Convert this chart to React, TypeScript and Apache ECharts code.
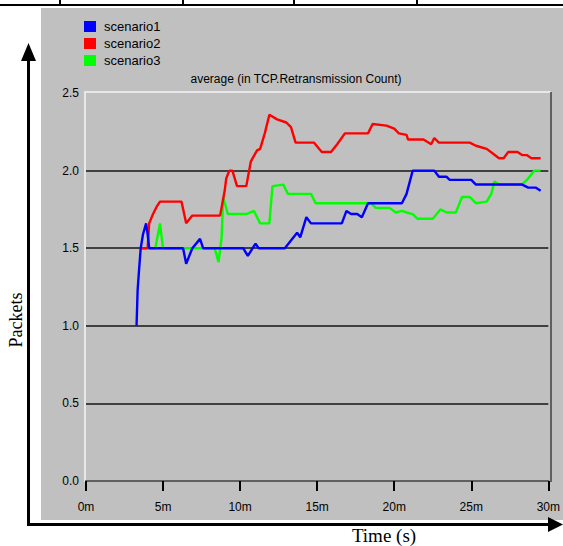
import React, { useEffect, useRef } from "react";
import * as echarts from "echarts";

const seriesNames = ["scenario1", "scenario2", "scenario3"];
const seriesColors = ["#0000ff", "#ff0000", "#00ff00"];
const xTickLabels = ["0m", "5m", "10m", "15m", "20m", "25m", "30m"];
const yTickLabels = ["0.0", "0.5", "1.0", "1.5", "2.0", "2.5"];

// scenario1 (blue), time in minutes
const s1Time = [3.28, 3.35, 3.45, 3.55, 3.7, 3.9, 4.0, 4.1, 6.3, 6.5, 6.9, 7.4, 7.6, 10.2, 10.5, 11.0, 11.2, 12.9, 13.7, 13.9, 14.3, 14.6, 16.6, 16.9, 17.2, 17.6, 17.9, 18.3, 20.5, 20.8, 21.2, 22.6, 22.9, 23.4, 23.6, 25.0, 25.3, 28.3, 28.7, 29.2, 29.5];
const s1Value = [1.0, 1.23, 1.37, 1.5, 1.59, 1.66, 1.59, 1.5, 1.5, 1.4, 1.5, 1.56, 1.5, 1.5, 1.45, 1.53, 1.5, 1.5, 1.6, 1.57, 1.7, 1.66, 1.66, 1.74, 1.72, 1.72, 1.7, 1.79, 1.79, 1.85, 2.0, 2.0, 1.96, 1.96, 1.94, 1.94, 1.91, 1.91, 1.89, 1.89, 1.87];

// scenario2 (red)
const s2Time = [3.6, 4.0, 4.1, 4.35, 4.6, 4.8, 6.2, 6.5, 6.9, 8.7, 9.0, 9.1, 9.3, 9.5, 9.8, 10.4, 10.7, 11.1, 11.3, 11.6, 11.9, 12.4, 13.0, 13.3, 13.6, 14.8, 15.3, 15.9, 16.3, 16.8, 18.3, 18.6, 19.5, 20.0, 20.3, 20.8, 20.9, 21.9, 22.4, 22.6, 22.9, 24.9, 25.3, 26.0, 26.4, 26.8, 27.1, 27.4, 28.0, 28.3, 28.6, 28.9, 29.5];
const s2Value = [1.5, 1.5, 1.66, 1.72, 1.77, 1.8, 1.8, 1.66, 1.71, 1.71, 1.87, 1.95, 2.0, 2.0, 1.9, 1.9, 2.06, 2.13, 2.14, 2.24, 2.36, 2.33, 2.31, 2.28, 2.18, 2.18, 2.12, 2.12, 2.17, 2.24, 2.24, 2.3, 2.29, 2.27, 2.24, 2.23, 2.2, 2.2, 2.17, 2.21, 2.18, 2.18, 2.16, 2.14, 2.11, 2.08, 2.08, 2.12, 2.12, 2.1, 2.1, 2.08, 2.08];

// scenario3 (green)
const s3Time = [3.6, 4.5, 4.8, 5.0, 8.35, 8.6, 8.8, 8.9, 9.2, 10.4, 10.9, 11.3, 11.9, 12.1, 12.8, 13.1, 14.6, 14.9, 18.5, 18.8, 19.7, 20.1, 20.5, 20.8, 21.2, 21.5, 22.5, 23.0, 23.4, 24.0, 24.4, 24.9, 25.3, 26.0, 26.3, 26.5, 26.8, 28.3, 28.7, 29.1, 29.5];
const s3Value = [1.5, 1.5, 1.66, 1.5, 1.5, 1.41, 1.57, 1.83, 1.72, 1.72, 1.74, 1.66, 1.66, 1.9, 1.91, 1.85, 1.85, 1.79, 1.79, 1.76, 1.76, 1.73, 1.74, 1.73, 1.72, 1.69, 1.69, 1.75, 1.73, 1.73, 1.83, 1.83, 1.79, 1.8, 1.85, 1.93, 1.91, 1.91, 1.95, 2.0, 2.0];

const titleText = "average (in TCP.Retransmission Count)";
const yName = "Packets";
const xName = "Time (s)";

const SANS = '"Liberation Sans", Arial, sans-serif';
const SERIF = '"Liberation Serif", "Times New Roman", serif';

const zip = (t: number[], v: number[]) => t.map((x, i) => [x, v[i]]);

export default function App() {
  const ref = useRef<HTMLDivElement>(null);
  useEffect(() => {
    if (!ref.current) return;
    const chart = echarts.init(ref.current, null, { renderer: "svg" });
    const data = [zip(s1Time, s1Value), zip(s2Time, s2Value), zip(s3Time, s3Value)];
    const zs = [5, 4, 3];
    chart.setOption({
      animation: false,
      backgroundColor: "#ffffff",
      title: {
        text: titleText,
        left: 296,
        top: 73,
        textAlign: "center",
        textStyle: { fontFamily: SANS, fontSize: 12, fontWeight: "normal", color: "#000" },
        padding: 0,
      },
      legend: {
        orient: "vertical",
        left: 84,
        top: 20,
        icon: "rect",
        itemWidth: 12,
        itemHeight: 11,
        itemGap: 4,
        padding: 0,
        data: seriesNames,
        textStyle: { fontFamily: SANS, fontSize: 13, color: "#000", padding: [0, 0, 0, 3] },
      },
      grid: { left: 86, right: 14, top: 93, bottom: 65 },
      xAxis: {
        type: "value",
        min: 0,
        max: 30,
        interval: 5,
        axisLine: { show: true, lineStyle: { color: "#606060", width: 2 } },
        axisTick: { show: true, length: 10, lineStyle: { color: "#000", width: 2 } },
        axisLabel: {
          fontFamily: SANS,
          fontSize: 12,
          color: "#000",
          margin: 20,
          formatter: (v: number) => xTickLabels[Math.round(v / 5)] ?? "",
        },
        splitLine: { show: false },
      },
      yAxis: {
        type: "value",
        min: 0,
        max: 2.5,
        interval: 0.5,
        axisLine: { show: false },
        axisTick: { show: false },
        axisLabel: {
          fontFamily: SANS,
          fontSize: 12,
          color: "#000",
          margin: 7,
          formatter: (v: number) => yTickLabels[Math.round(v / 0.5)] ?? "",
        },
        splitLine: { show: true, showMaxLine: false, showMinLine: false, lineStyle: { color: "#404040", width: 2 } },
      },
      series: data.map((d, i) => ({
        name: seriesNames[i],
        type: "line",
        data: d,
        z: zs[i],
        symbol: "none",
        lineStyle: { color: seriesColors[i], width: 2.4 },
        itemStyle: { color: seriesColors[i] },
      })),
      graphic: [
        { type: "rect", z: -100, shape: { x: 41, y: 8, width: 522, height: 512 }, style: { fill: "#c0c0c0" } },
        { type: "line", z: -50, shape: { x1: 84, y1: 92, x2: 551, y2: 92 }, style: { stroke: "#e8e8e8", lineWidth: 2 } },
        { type: "line", z: -50, shape: { x1: 85, y1: 92, x2: 85, y2: 482 }, style: { stroke: "#e8e8e8", lineWidth: 2 } },
        { type: "line", z: -50, shape: { x1: 551, y1: 92, x2: 551, y2: 482 }, style: { stroke: "#606060", lineWidth: 2 } },
        { type: "line", shape: { x1: 0, y1: 5, x2: 563, y2: 5 }, style: { stroke: "#000", lineWidth: 2 } },
        { type: "line", shape: { x1: 60, y1: 0, x2: 60, y2: 5 }, style: { stroke: "#000", lineWidth: 2 } },
        { type: "line", shape: { x1: 183, y1: 0, x2: 183, y2: 5 }, style: { stroke: "#000", lineWidth: 2 } },
        { type: "line", shape: { x1: 294, y1: 0, x2: 294, y2: 5 }, style: { stroke: "#000", lineWidth: 2 } },
        { type: "line", shape: { x1: 417, y1: 0, x2: 417, y2: 5 }, style: { stroke: "#000", lineWidth: 2 } },
        { type: "line", shape: { x1: 28.5, y1: 525, x2: 28.5, y2: 56 }, style: { stroke: "#000", lineWidth: 3 } },
        { type: "polygon", shape: { points: [[21, 61], [36, 61], [28.5, 43]] }, style: { fill: "#000" } },
        { type: "line", shape: { x1: 27, y1: 524.5, x2: 552, y2: 524.5 }, style: { stroke: "#000", lineWidth: 3 } },
        { type: "polygon", shape: { points: [[548, 517], [548, 532], [563, 524.5]] }, style: { fill: "#000" } },
        {
          type: "text",
          x: 16,
          y: 320,
          rotation: Math.PI / 2,
          style: { text: yName, font: `18px ${SERIF}`, fill: "#000", align: "center", verticalAlign: "middle" },
        },
        {
          type: "text",
          x: 384,
          y: 535,
          style: { text: xName, font: `19px ${SERIF}`, fill: "#000", align: "center", verticalAlign: "middle" },
        },
      ],
    });
    return () => chart.dispose();
  }, []);
  return <div ref={ref} style={{ position: "absolute", left: 0, top: 0, width: 563, height: 546 }} />;
}
